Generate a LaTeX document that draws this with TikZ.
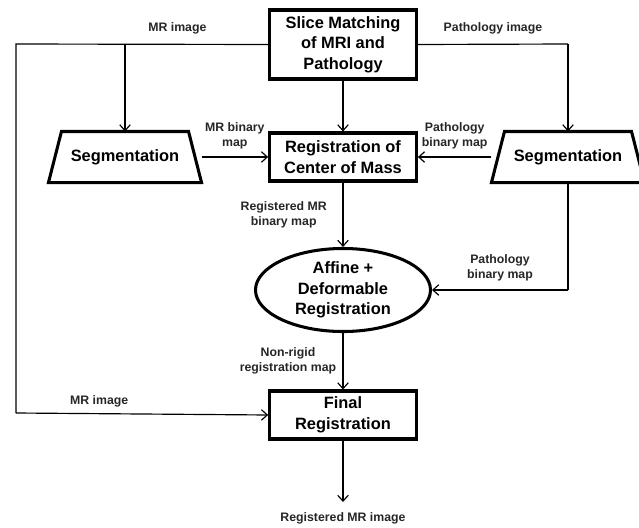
\documentclass[tikz,border=0pt]{standalone}
\usepackage{fontspec}
\setmainfont{Liberation Sans}
\usetikzlibrary{positioning,arrows.meta,shapes.geometric,calc}
\tikzset{
  stage/.style={draw,line width=2.6pt,minimum width=4.4cm,minimum height=1.44cm,
            align=center,font=\fontsize{14}{17.5}\selectfont\bfseries,fill=white,inner sep=1pt},
  segbox/.style={stage,draw=none,fill=none,minimum width=4.5cm},
  segline/.style={line width=2.6pt,line join=miter},
  regellipse/.style={stage,ellipse,minimum width=5.25cm,minimum height=2.1cm},
  flow/.style={-{Straight Barb[length=5pt,width=9pt]},line width=1pt},
  wire/.style={line width=1pt},
  lbl/.style={font=\fontsize{10.5}{12.8}\selectfont\bfseries,align=center,text=black!85},
}
\newcommand{\segoutline}[1]{%
  \draw[segline] ([xshift=0.39cm]#1.north west) -- ([xshift=-0.39cm]#1.north east)
    -- (#1.south east) -- (#1.south west) -- cycle;}
\begin{document}
\begin{tikzpicture}[x=0.03cm,y=-0.03cm]
  \useasboundingbox (0,0) rectangle (639,528);
  % main column
  \node[stage,minimum height=2.07cm] (slice) at (343,44.5) {Slice Matching\\of MRI and\\Pathology};
  \node[stage] (com) at (343,157) {Registration of\\Center of Mass};
  \node[regellipse] (affine) at (343,290) {Affine +\\Deformable\\Registration};
  \node[stage] (final) at (343,415) {Final\\Registration};
  \coordinate (out) at (343,502);
  \node[lbl] (outlbl) at (343,518) {Registered MR image};
  % segmentation branches
  \node[segbox] (segL) at (125,157) {Segmentation};
  \node[segbox] (segR) at (568,157) {Segmentation};
  \segoutline{segL}
  \segoutline{segR}
  \coordinate (mrcorner) at (16,44);
  \coordinate (mrtap) at (125,44);
  \coordinate (pathcorner) at (568,44);
  \coordinate (mrlow) at (16,413);
  \coordinate (pathlow) at (568,290);
  % image inputs
  \draw[wire] (slice.west) -- node[lbl,pos=0.36,above=5pt]{MR image} (mrcorner) -- (mrlow);
  \draw[flow] (mrlow) -- node[lbl,pos=0.33,above=2pt]{MR image} (final.west);
  \draw[flow] (mrtap) -- (segL.north);
  \draw[wire] (slice.east) -- node[lbl,pos=0.5,above=5pt]{Pathology image} (pathcorner);
  \draw[flow] (pathcorner) -- (segR.north);
  % binary maps
  \draw[flow] (slice.south) -- (com.north);
  \draw[flow] (segL.east) -- node[lbl,above=3pt]{MR binary\\map} (com.west);
  \draw[flow] (segR.west) -- node[lbl,above=3pt]{Pathology\\binary map} (com.east);
  \draw[flow] (com.south) -- node[lbl,left=10pt]{Registered MR\\binary map} (affine.north);
  \draw[wire] (segR.south) -- (pathlow);
  \draw[flow] (pathlow) -- node[lbl,above=4pt]{Pathology\\binary map} (affine.east);
  \draw[flow] (affine.south) -- node[lbl,left=2pt]{Non-rigid\\registration map} (final.north);
  \draw[flow] (final.south) -- (out);
\end{tikzpicture}
\end{document}
